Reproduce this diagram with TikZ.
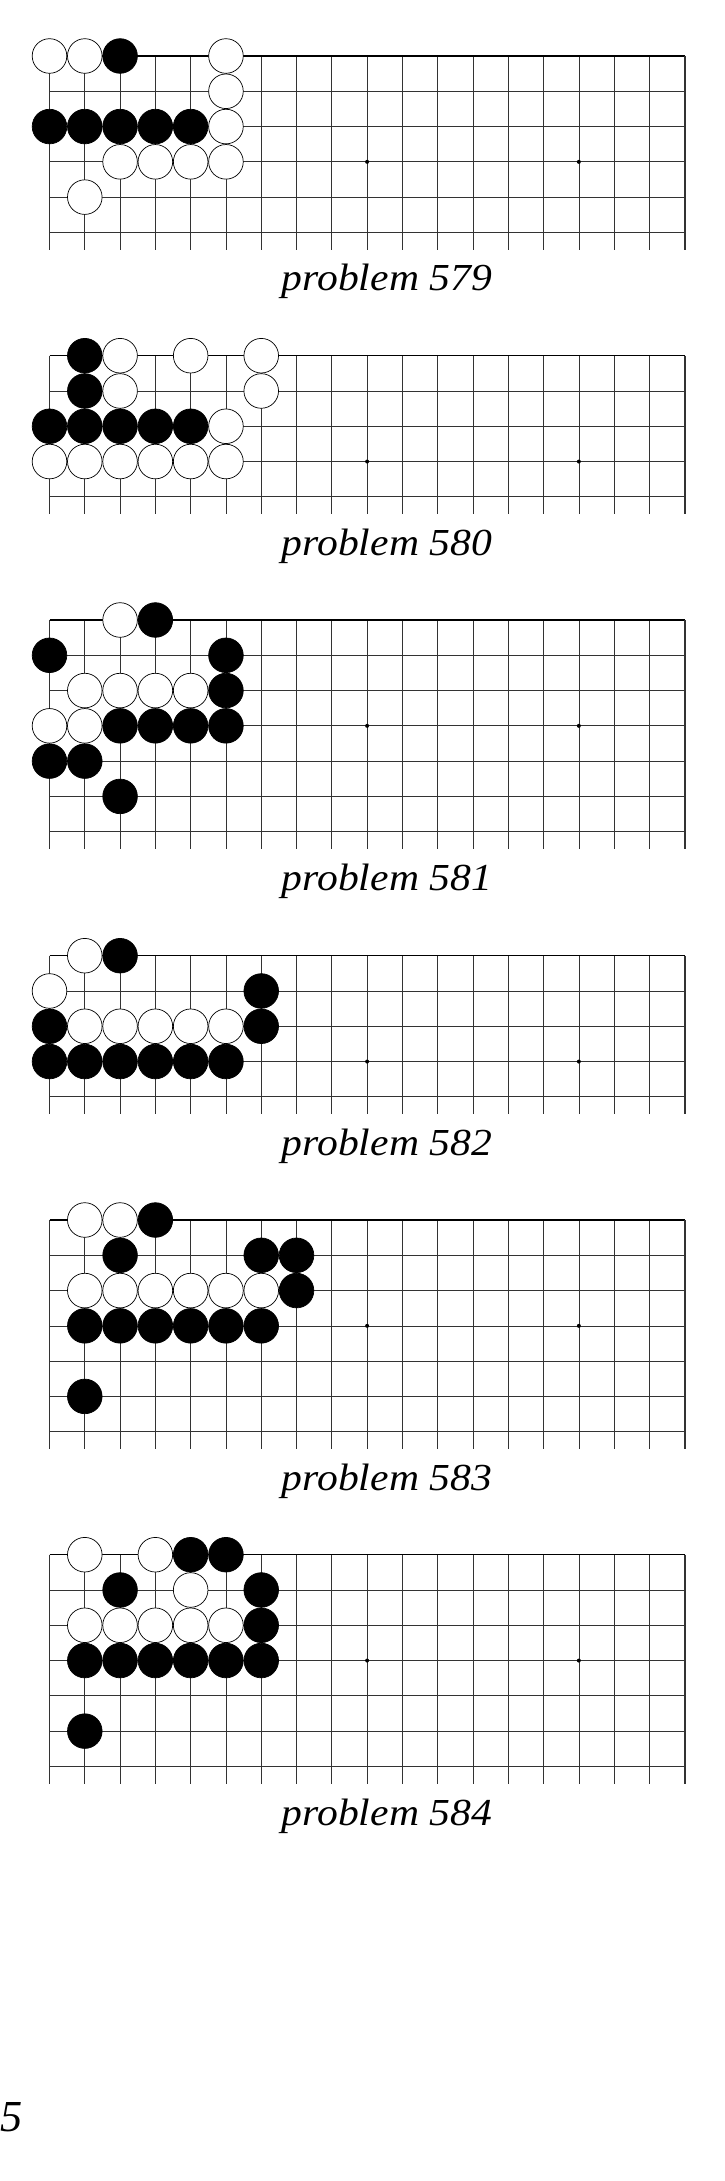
\documentclass[tikz,border=0pt]{standalone}
\usepackage{fontspec}
\newfontfamily\capfont{Liberation Serif}
\tikzset{
  gridline/.style={black!80, line width=0.7pt},
  topedge/.style={black, line width=1.4pt},
  rightedge/.style={black!80, line width=1.8pt},
  stone/.style={circle, draw=black, line width=0.7pt, minimum size=34.6pt, inner sep=0pt},
  wst/.style={stone, fill=white},
  bst/.style={stone, fill=black},
  hoshi/.style={circle, fill=black, minimum size=4pt, inner sep=0pt},
  capnode/.style={anchor=base west, inner sep=0pt},
}
\newcommand{\drawgrid}[2]{%
  \foreach \c in {0,...,17} \draw[gridline] (\c,0) -- (\c,#2+0.5);
  \foreach \r in {1,...,#2} \draw[gridline] (0,\r) -- (18,\r);
  \draw[topedge] (0,0) -- (18,0);
  \draw[rightedge] (18,0) -- (18,#2+0.5);
  \node[hoshi] (#1h9) at (9,3) {};
  \node[hoshi] (#1h15) at (15,3) {};
}
\newcommand{\putstones}[3]{%
  \foreach \c/\r in {#3} \node[#2] (#1-\c-\r) at (\c,\r) {};
}
\newcommand{\capt}[1]{\resizebox{210pt}{26.5pt}{\capfont\itshape problem #1}}
\begin{document}
\begin{tikzpicture}[x=1pt, y=-1pt]
\useasboundingbox (0,0) rectangle (725,2181);

% problem 579
\begin{scope}[shift={(49.5,56)}, x=35.29pt, y=-35.28pt]
  \drawgrid{a}{5}
  \putstones{aw}{wst}{0/0,1/0,5/0,5/1,5/2,2/3,3/3,4/3,5/3,1/4}
  \putstones{ab}{bst}{2/0,0/2,1/2,2/2,3/2,4/2}
\end{scope}
\node[capnode] (cap579) at (281.7,290.7) {\capt{579}};

% problem 580
\begin{scope}[shift={(49.5,355.7)}, x=35.29pt, y=-35.28pt]
  \drawgrid{b}{4}
  \putstones{bw}{wst}{2/0,4/0,6/0,2/1,6/1,5/2,0/3,1/3,2/3,3/3,4/3,5/3}
  \putstones{bb}{bst}{1/0,1/1,0/2,1/2,2/2,3/2,4/2}
\end{scope}
\node[capnode] (cap580) at (281.7,555.2) {\capt{580}};

% problem 581
\begin{scope}[shift={(49.5,620)}, x=35.29pt, y=-35.28pt]
  \drawgrid{c}{6}
  \putstones{cw}{wst}{2/0,1/2,2/2,3/2,4/2,0/3,1/3}
  \putstones{cb}{bst}{3/0,0/1,5/1,5/2,2/3,3/3,4/3,5/3,0/4,1/4,2/5}
\end{scope}
\node[capnode] (cap581) at (281.7,890) {\capt{581}};

% problem 582
\begin{scope}[shift={(49.5,955.7)}, x=35.29pt, y=-35.28pt]
  \drawgrid{d}{4}
  \putstones{dw}{wst}{1/0,0/1,1/2,2/2,3/2,4/2,5/2}
  \putstones{db}{bst}{2/0,6/1,0/2,6/2,0/3,1/3,2/3,3/3,4/3,5/3}
\end{scope}
\node[capnode] (cap582) at (281.7,1155.2) {\capt{582}};

% problem 583
\begin{scope}[shift={(49.5,1220)}, x=35.29pt, y=-35.28pt]
  \drawgrid{e}{6}
  \putstones{ew}{wst}{1/0,2/0,1/2,2/2,3/2,4/2,5/2,6/2}
  \putstones{eb}{bst}{3/0,2/1,6/1,7/1,7/2,1/3,2/3,3/3,4/3,5/3,6/3,1/5}
\end{scope}
\node[capnode] (cap583) at (281.7,1490) {\capt{583}};

% problem 584
\begin{scope}[shift={(49.5,1554.7)}, x=35.29pt, y=-35.28pt]
  \drawgrid{f}{6}
  \putstones{fw}{wst}{1/0,3/0,4/1,1/2,2/2,3/2,4/2,5/2}
  \putstones{fb}{bst}{4/0,5/0,2/1,6/1,6/2,1/3,2/3,3/3,4/3,5/3,6/3,1/5}
\end{scope}
\node[capnode] (cap584) at (281.7,1825.4) {\capt{584}};

% page number
\node[anchor=base west, inner sep=0pt] (pagenum) at (0.5,2131.7) {\resizebox{!}{29pt}{\capfont\itshape 5}};
\end{tikzpicture}
\end{document}
